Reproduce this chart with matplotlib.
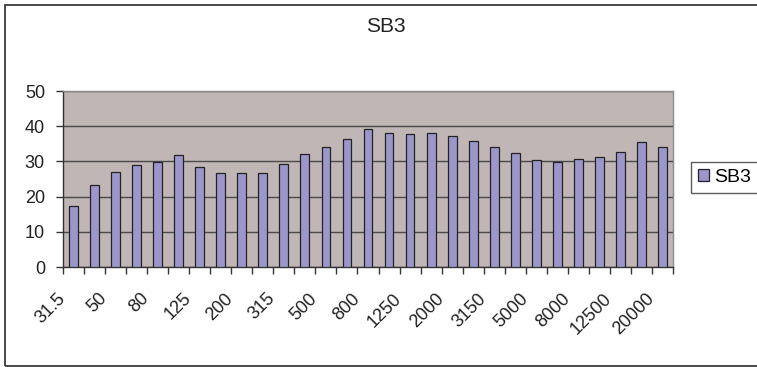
import numpy as np
import matplotlib.pyplot as plt
from matplotlib.patches import Rectangle
from matplotlib.transforms import ScaledTranslation, blended_transform_factory

plt.rcParams['font.family'] = ['Liberation Sans', 'DejaVu Sans']

# third-octave band centres (Hz) and measured level
bands = ['31.5', '40', '50', '63', '80', '100', '125', '160', '200', '250',
         '315', '400', '500', '630', '800', '1000', '1250', '1600', '2000',
         '2500', '3150', '4000', '5000', '6300', '8000', '10000', '12500',
         '16000', '20000']
sb3 = [17.3, 23.3, 27.1, 28.9, 29.9, 31.7, 28.5, 26.6, 26.6, 26.6,
       29.3, 32.2, 34.1, 36.3, 39.2, 38.2, 37.9, 38.2, 37.3, 35.9,
       34.1, 32.3, 30.4, 29.9, 30.8, 31.3, 32.7, 35.5, 34.1]
yticks = [0, 10, 20, 30, 40, 50]

W, H = 757, 367
fig = plt.figure(figsize=(W / 100, H / 100), dpi=100)

# chart area frame
fig.patches.append(Rectangle((5 / W, 1.5 / H), 1.2, (H - 6.5) / H,
                             transform=fig.transFigure, fill=False,
                             edgecolor='#3a3a3a', linewidth=1.3))

ax = fig.add_axes([63 / W, 100 / H, 610 / W, 176 / H])
ax.set_facecolor('#c0b6b5')

x = np.arange(len(bands))
ax.bar(x, sb3, width=0.42, color='#9c97cb', edgecolor='#222222',
       linewidth=0.9, label='SB3', zorder=3)

ax.set_xlim(-0.5, len(bands) - 0.5)
ax.set_ylim(0, 50)
ax.set_yticks(yticks)
ax.yaxis.grid(True, color='#4a4a4a', linewidth=1.0, zorder=1)
ax.set_axisbelow(True)

for side in ['top', 'right']:
    ax.spines[side].set_color('#8a8a8a')
    ax.spines[side].set_linewidth(1.0)
for side in ['left', 'bottom']:
    ax.spines[side].set_color('#333333')
    ax.spines[side].set_linewidth(1.0)

ax.tick_params(axis='y', length=5, width=1, color='#333333', pad=8,
               labelsize=13, labelcolor='#222222')

# tick marks on category boundaries, labels on every other band
ax.set_xticks(np.arange(-0.5, len(bands)))
ax.tick_params(axis='x', length=5, width=1, color='#333333',
               labelbottom=False)
lbl_tr = blended_transform_factory(ax.transData, ax.transAxes) + \
    ScaledTranslation(-17 / 100, -23 / 100, fig.dpi_scale_trans)
for i in x[::2]:
    ax.text(i, 0, bands[i], transform=lbl_tr, rotation=45,
            rotation_mode='anchor', ha='right', va='top',
            fontsize=13, color='#222222')

fig.text(386 / W, 1 - 27 / H, 'SB3', ha='center', va='center',
         fontsize=15, color='#222222')

leg = fig.legend(loc='upper left', bbox_to_anchor=(691 / W, 1 - 162 / H),
                 fontsize=14, frameon=True, fancybox=False,
                 handlelength=0.55, handleheight=0.55, handletextpad=0.3,
                 borderpad=0.35, borderaxespad=0)
leg.get_frame().set_edgecolor('#333333')
leg.get_frame().set_linewidth(1.0)

fig.savefig('out.png', dpi=100)
